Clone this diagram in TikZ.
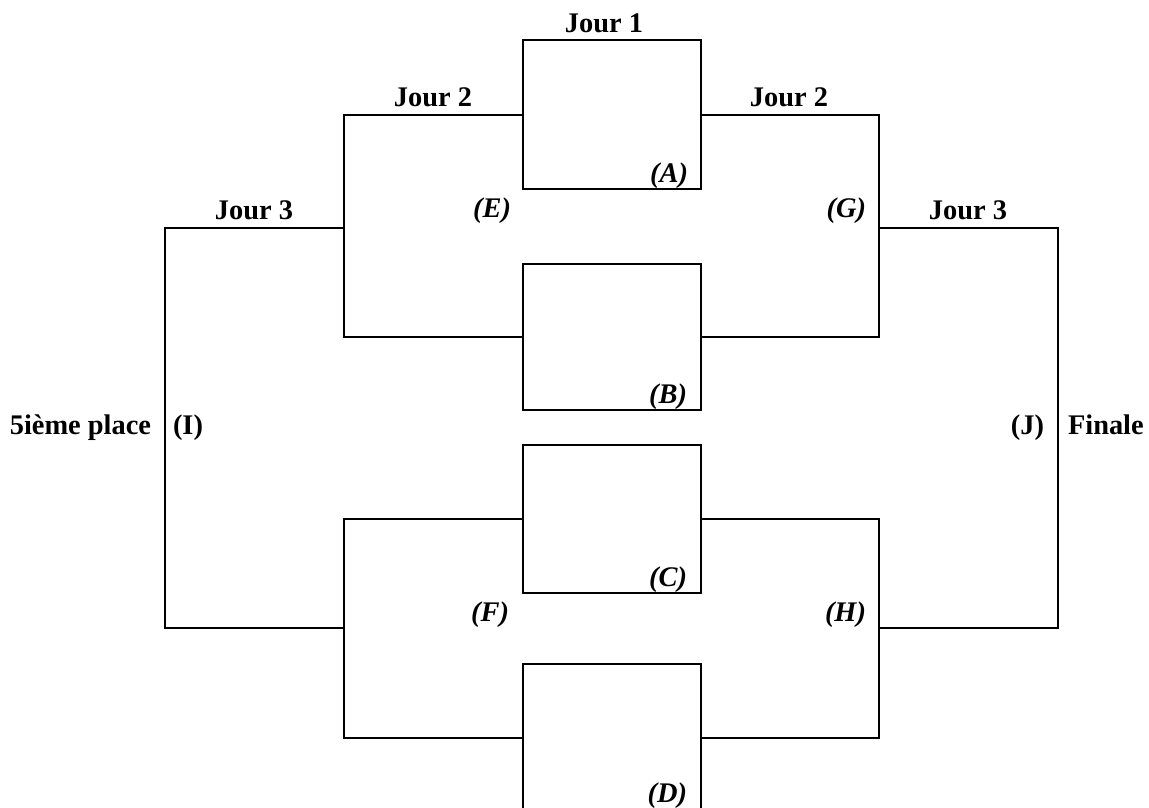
\documentclass[tikz,border=0pt]{standalone}
\usepackage{fontspec}
\setmainfont{Liberation Serif}
\begin{document}
\begin{tikzpicture}[x=1pt,y=-1pt,
  line width=2pt, line join=miter,
  box/.style={draw, rectangle, minimum width=178.5pt, inner sep=0pt},
  lbl/.style={inner sep=0pt, font=\fontsize{28.4}{34}\selectfont\bfseries},
  ilbl/.style={inner sep=0pt, font=\fontsize{28.4}{34}\selectfont\bfseries\itshape, anchor=base east}]
\useasboundingbox (0,0) rectangle (1149,807);
\clip (0,0) rectangle (1149,807);
% boxes
\node[box, minimum height=149pt] (A) at (611.75,114.5) {};
\node[box, minimum height=146pt] (B) at (611.75,336.5) {};
\node[box, minimum height=148pt] (C) at (611.75,518.5) {};
\node[box, minimum height=148pt] (D) at (611.75,738) {};
% bracket junctions
\coordinate (E) at (344,228);
\coordinate (F) at (344,628);
\coordinate (G) at (879,228);
\coordinate (H) at (879,628);
\coordinate (I) at (165,428);
\coordinate (J) at (1058,428);
% connectors
\draw (A.west) -| (E) |- (B.west);
\draw (A.east) -| (G) |- (B.east);
\draw (C.west) -| (F) |- (D.west);
\draw (C.east) -| (H) |- (D.east);
\draw (E) -| (I) |- (F);
\draw (G) -| (J) |- (H);
% labels
\node[lbl, anchor=base] (j1) at (604,32) {Jour 1};
\node[lbl, anchor=base] (j2l) at (433,106) {Jour 2};
\node[lbl, anchor=base] (j2r) at (789,106) {Jour 2};
\node[lbl, anchor=base] (j3l) at (254,219) {Jour 3};
\node[lbl, anchor=base] (j3r) at (968,219) {Jour 3};
\node[ilbl] (la) at (689,182) {(A)};
\node[ilbl] (lb) at (688,403) {(B)};
\node[ilbl] (lc) at (688,586) {(C)};
\node[ilbl] (ld) at (688,802) {(D)};
\node[ilbl] (le) at (512,217) {(E)};
\node[ilbl] (lg) at (867,217) {(G)};
\node[ilbl] (lf) at (510,621) {(F)};
\node[ilbl] (lh) at (867,621) {(H)};
\node[lbl, anchor=base west] (li) at (172,434) {(I)};
\node[lbl, anchor=base east] (lp) at (152,434) {5ième place};
\node[lbl, anchor=base east] (lj) at (1045,434) {(J)};
\node[lbl, anchor=base west] (lfin) at (1067,434) {Finale};
\end{tikzpicture}
\end{document}
